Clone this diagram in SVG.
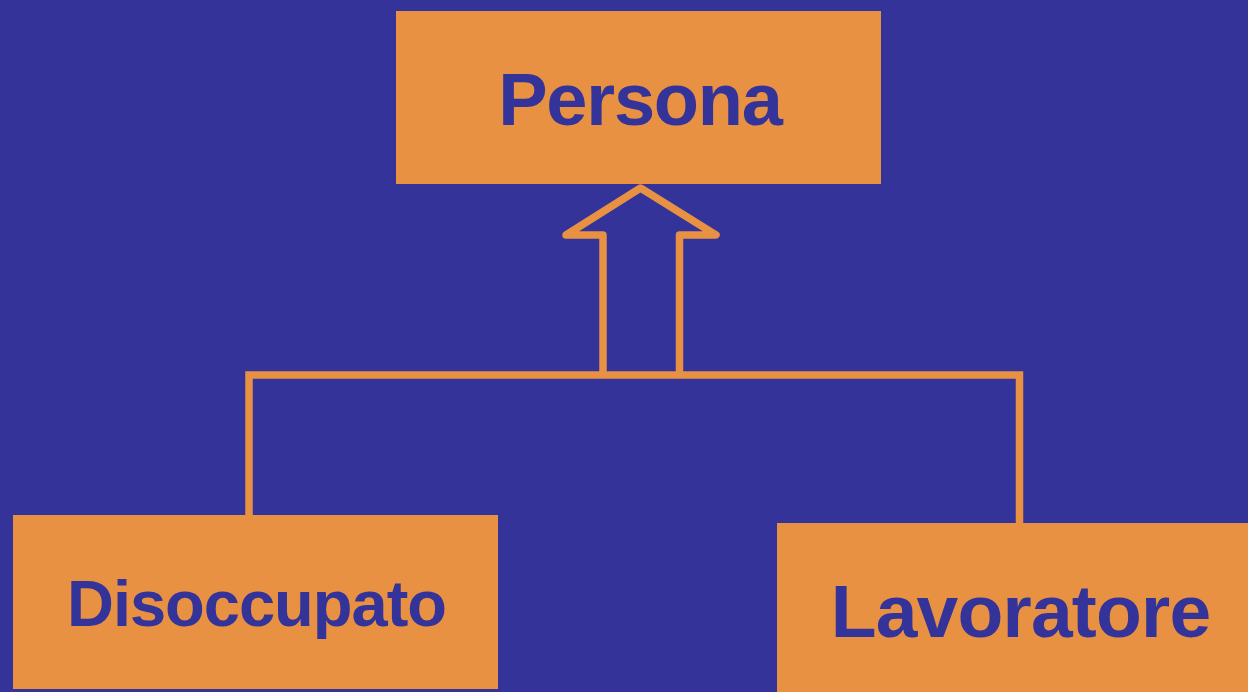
<svg xmlns="http://www.w3.org/2000/svg" width="1248" height="692" viewBox="0 0 1248 692">
  <style>
    .box { fill: #E89143; }
    .label { fill: #343399; font-family: "Liberation Sans", Arial, Helvetica, sans-serif; font-weight: bold; text-anchor: middle; }
    .wire { fill: none; stroke: #E89143; stroke-width: 7.5; stroke-linejoin: round; stroke-linecap: butt; }
  </style>
  <rect width="1248" height="692" fill="#343399"/>

  <g id="connectors">
    <!-- shared bus joining the subclasses -->
    <path class="wire" d="M249,515 L249,375 L1019.5,375 L1019.5,523" style="stroke-linejoin: miter"/>
    <!-- hollow generalisation arrow up to the superclass -->
    <path class="wire" d="M603,375 L603,235 L566,235 L640.5,188 L716,235 L679.5,235 L679.5,375"/>
  </g>

  <g id="persona">
    <rect class="box" x="396" y="11" width="485" height="173"/>
    <text class="label" x="640" y="125" font-size="74" letter-spacing="-1.2">Persona</text>
  </g>

  <g id="disoccupato">
    <rect class="box" x="13" y="515" width="485" height="174"/>
    <text class="label" x="256.5" y="626" font-size="65" letter-spacing="-1">Disoccupato</text>
  </g>

  <g id="lavoratore">
    <rect class="box" x="777" y="523" width="487" height="175"/>
    <text class="label" x="1020.5" y="637" font-size="75" letter-spacing="-0.8">Lavoratore</text>
  </g>
</svg>
